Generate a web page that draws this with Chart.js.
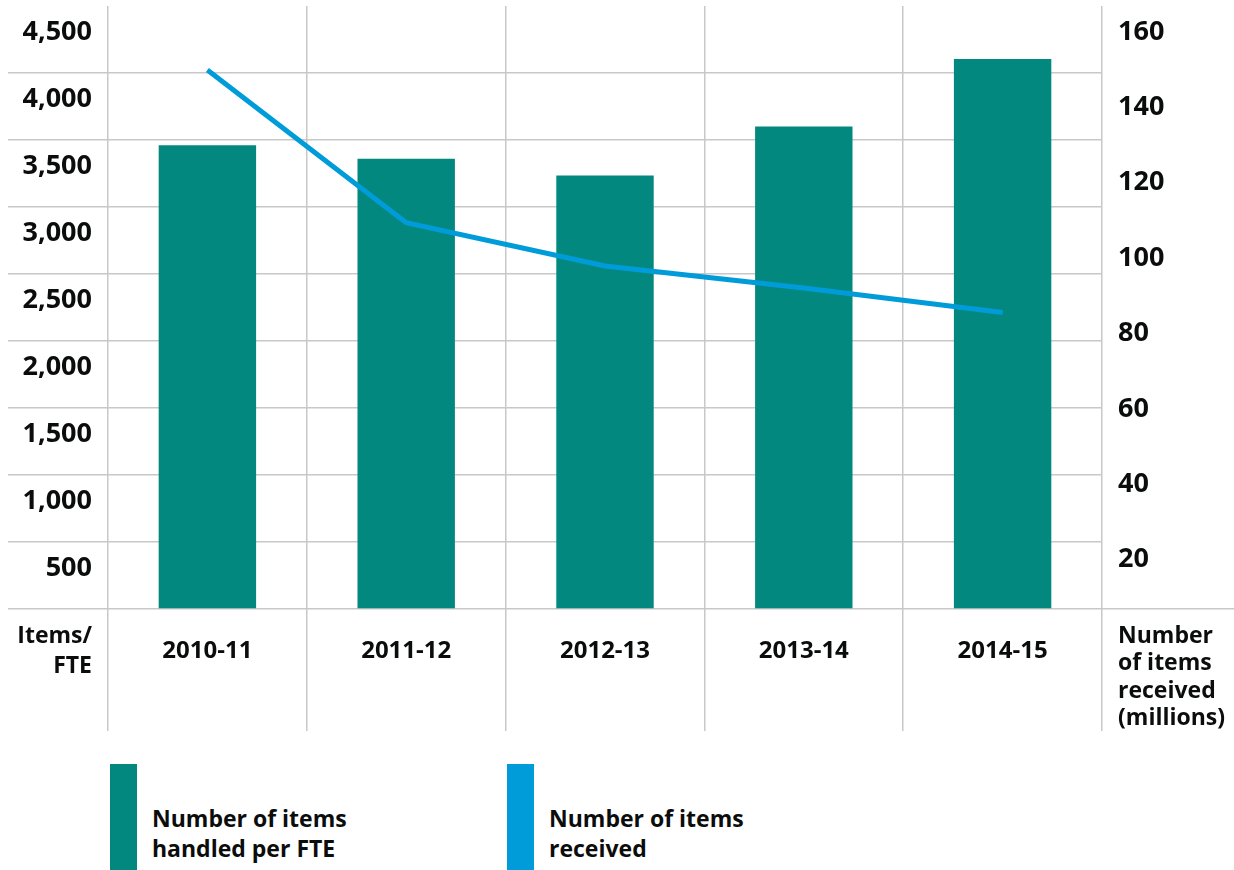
<!DOCTYPE html>
<html>
<head>
<meta charset="utf-8">
<script src="https://cdn.jsdelivr.net/npm/chart.js@4/dist/chart.umd.min.js"></script>
<style>
  html, body { margin: 0; padding: 0; background: #fff; }
  #wrap { position: relative; width: 1234px; height: 870px; font-family: "Open Sans", sans-serif; }
  #legenda { position: absolute; left: 0; top: 764px; width: 1234px; height: 106px; }
  .leg-item { position: absolute; top: 0; height: 106px; display: flex; align-items: flex-end; }
  .leg-box { width: 27px; height: 106px; }
  .leg-text { margin-left: 15px; margin-bottom: 7px; font-weight: 700; font-size: 23px; line-height: 30px; color: #0b0c0c; }
</style>
</head>
<body>
<div id="wrap">
  <canvas id="graficArticole" width="1234" height="740"></canvas>
  <div id="legenda"></div>
</div>
<script>
const ani = ['2010-11', '2011-12', '2012-13', '2013-14', '2014-15'];
const articolePeFTE = [3460, 3360, 3235, 3600, 4105];      // items/FTE
const articolePrimite = [143, 102.5, 91, 85.2, 78.7];       // milioane
const liniiLegenda = [['Number of items', 'handled per FTE'], ['Number of items', 'received']];
const titluStanga = ['Items/', 'FTE'];
const titluDreapta = ['Number', 'of items', 'received', '(millions)'];

const culoareBare = '#038880';
const culoareLinie = '#009cd9';
const culoareGrila = '#c8c8c8';
const fontAxe = { family: '"Open Sans", sans-serif', weight: '700', size: 27 };

// titlurile axelor stau sub axe, nu pe lateral
const titluriAxe = {
  id: 'titluriAxe',
  afterDraw(chart) {
    const ctx = chart.ctx;
    const jos = chart.chartArea.bottom;
    ctx.save();
    ctx.fillStyle = '#0b0c0c';
    ctx.font = '700 23px "Open Sans", sans-serif';
    ctx.textBaseline = 'middle';
    ctx.textAlign = 'right';
    titluStanga.forEach((t, i) => ctx.fillText(t, chart.scales.y.right - 16, jos + 27 + i * 30));
    ctx.textAlign = 'left';
    titluDreapta.forEach((t, i) => ctx.fillText(t, chart.scales.y1.left + 16, jos + 27 + i * 27.5));
    ctx.restore();
  }
};

const grafic = new Chart(document.getElementById('graficArticole').getContext('2d'), {
  type: 'bar',
  data: {
    labels: ani,
    datasets: [{
      type: 'line',
      label: liniiLegenda[1].join(' '),
      data: articolePrimite,
      yAxisID: 'y1',
      borderColor: culoareLinie,
      backgroundColor: culoareLinie,
      borderWidth: 5,
      pointRadius: 0,
      tension: 0,
      order: 0
    }, {
      label: liniiLegenda[0].join(' '),
      data: articolePeFTE,
      yAxisID: 'y',
      backgroundColor: culoareBare,
      categoryPercentage: 1,
      barPercentage: 0.49,
      order: 1
    }]
  },
  options: {
    responsive: false,
    animation: false,
    layout: { padding: { top: 6, left: 0, right: 0, bottom: 0 } },
    plugins: { legend: { display: false }, tooltip: { enabled: false } },
    scales: {
      x: {
        border: { display: false },
        grid: { color: culoareGrila, lineWidth: 1.5, tickLength: 122, offset: true },
        ticks: { color: '#0b0c0c', font: { ...fontAxe, size: 24 }, padding: -94, maxRotation: 0 },
        afterFit: s => { s.height = 131; }
      },
      y: {
        position: 'left',
        min: 0, max: 4500,
        border: { display: false },
        grid: {
          color: c => c.tick && c.tick.value === 4500 ? 'transparent' : culoareGrila,
          lineWidth: 1.5,
          tickLength: 100
        },
        ticks: {
          stepSize: 500,
          color: '#0b0c0c',
          font: fontAxe,
          padding: -84,
          labelOffset: 26,
          callback: v => v === 0 ? '' : v.toLocaleString('en-GB')
        },
        afterFit: s => { s.width = 108; }
      },
      y1: {
        position: 'right',
        min: 0, max: 160,
        border: { display: false },
        grid: {
          drawOnChartArea: false,
          color: c => c.tick && c.tick.value === 0 ? culoareGrila : 'transparent',
          lineWidth: 1.5,
          tickLength: 132
        },
        ticks: {
          stepSize: 20,
          color: '#0b0c0c',
          font: fontAxe,
          padding: -116,
          labelOffset: 26,
          callback: v => v === 0 ? '' : v
        },
        afterFit: s => { s.width = 132; }
      }
    }
  },
  plugins: [titluriAxe]
});

// legenda HTML, cu culorile luate din seturile de date
const legenda = document.getElementById('legenda');
const pozitiiLegenda = [110, 507];
[grafic.data.datasets[1], grafic.data.datasets[0]].forEach((ds, i) => {
  const item = document.createElement('div');
  item.className = 'leg-item';
  item.style.left = pozitiiLegenda[i] + 'px';
  const box = document.createElement('div');
  box.className = 'leg-box';
  box.style.background = ds.type === 'line' ? ds.borderColor : ds.backgroundColor;
  const text = document.createElement('div');
  text.className = 'leg-text';
  text.innerHTML = liniiLegenda[i].join('<br>');
  item.appendChild(box);
  item.appendChild(text);
  legenda.appendChild(item);
});
</script>
</body>
</html>
